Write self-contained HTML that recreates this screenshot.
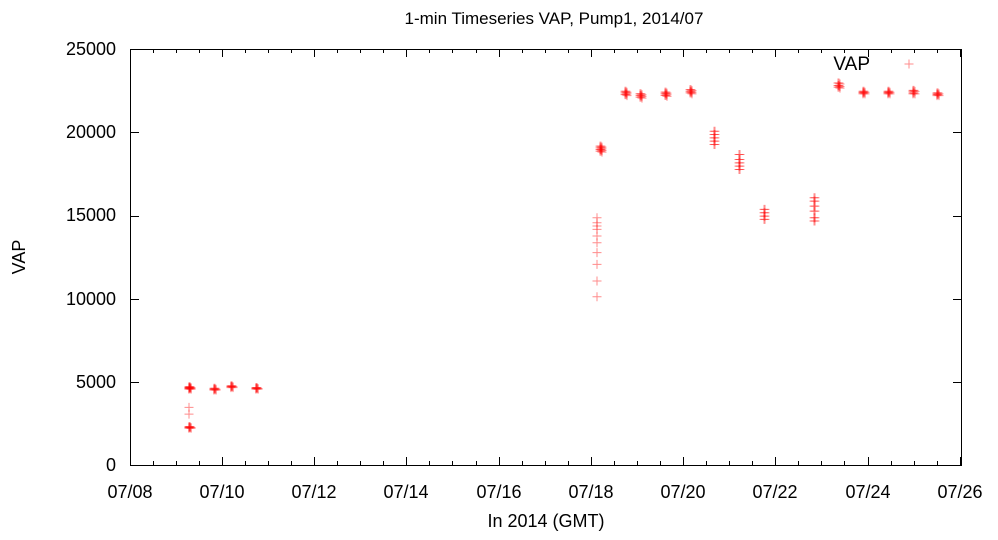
<!DOCTYPE html>
<html><head><style>body{margin:0;background:#fff}svg{display:block}text{font-family:"Liberation Sans",sans-serif;fill:#000}</style></head>
<body>
<svg width="998" height="540" viewBox="0 0 998 540" xmlns="http://www.w3.org/2000/svg">
<defs><path id="p" d="M-4.5 0H4.5M0 -4.5V4.5" stroke="#ff0000" stroke-width="1" stroke-opacity="0.45" fill="none"/></defs>
<text x="554" y="24" font-size="17" text-anchor="middle">1-min Timeseries VAP, Pump1, 2014/07</text>
<rect x="130.5" y="49.5" width="831" height="416" fill="none" stroke="#000" stroke-width="1"/>
<g font-size="18" text-anchor="end">
<text x="116" y="471">0</text><text x="116" y="388">5000</text><text x="116" y="305">10000</text><text x="116" y="221">15000</text><text x="116" y="138">20000</text><text x="116" y="55">25000</text>
</g>
<g stroke="#000" stroke-width="1">
<path d="M130 382.5h9M130 299.5h9M130 216.5h9M130 132.5h9M962 382.5h-9M962 299.5h-9M962 216.5h-9M962 132.5h-9"/>
<path d="M130.5 465v-8M222.5 465v-8M314.5 465v-8M406.5 465v-8M499.5 465v-8M591.5 465v-8M683.5 465v-8M775.5 465v-8M868.5 465v-8M960.5 465v-8
M130.5 49v8M222.5 49v8M314.5 49v8M406.5 49v8M499.5 49v8M591.5 49v8M683.5 49v8M775.5 49v8M868.5 49v8M960.5 49v8
M176.5 465v-4M268.5 465v-4M360.5 465v-4M452.5 465v-4M545.5 465v-4M637.5 465v-4M729.5 465v-4M821.5 465v-4M914.5 465v-4
M153.5 465v-4M199.5 465v-4M245.5 465v-4M291.5 465v-4M337.5 465v-4M383.5 465v-4M429.5 465v-4M476.5 465v-4M522.5 465v-4M568.5 465v-4M614.5 465v-4M660.5 465v-4M706.5 465v-4M752.5 465v-4M798.5 465v-4M844.5 465v-4M891.5 465v-4M937.5 465v-4
M176.5 49v4M268.5 49v4M360.5 49v4M452.5 49v4M545.5 49v4M637.5 49v4M729.5 49v4M821.5 49v4M914.5 49v4
M153.5 49v4M199.5 49v4M245.5 49v4M291.5 49v4M337.5 49v4M383.5 49v4M429.5 49v4M476.5 49v4M522.5 49v4M568.5 49v4M614.5 49v4M660.5 49v4M706.5 49v4M752.5 49v4M798.5 49v4M844.5 49v4M891.5 49v4M937.5 49v4"/>
</g>
<g font-size="18" text-anchor="middle">
<text x="130" y="498">07/08</text><text x="222" y="498">07/10</text><text x="314" y="498">07/12</text><text x="406" y="498">07/14</text><text x="499" y="498">07/16</text><text x="591" y="498">07/18</text><text x="683" y="498">07/20</text><text x="775" y="498">07/22</text><text x="868" y="498">07/24</text><text x="960" y="498">07/26</text>
</g>
<text x="546" y="527" font-size="18" text-anchor="middle">In 2014 (GMT)</text>
<text x="0" y="0" font-size="18" text-anchor="middle" transform="translate(25 257) rotate(-90)">VAP</text>
<text x="870" y="70" font-size="19" text-anchor="end">VAP</text>
<use href="#p" x="909" y="64"/>
<g id="pts"></g>
</svg>
<script>
var g=document.getElementById('pts'),ns='http://www.w3.org/2000/svg';
function Y(v){return 465-v*0.01664}
function add(x,vals,rep){vals.forEach(function(v){for(var i=0;i<(rep||1);i++){var u=document.createElementNS(ns,'use');u.setAttribute('href','#p');u.setAttribute('x',x+(i%3-1)*1);u.setAttribute('y',Y(v)+((i>>1)%3-1)*1);g.appendChild(u);}})}
add(190,[4600,4550,4650],4);add(190,[2200,2250],4);add(190,[3000,3400]);
add(215,[4500,4550],4);add(232,[4700,4650],4);add(257,[4600,4550],4);
add(598,[10050,11000,12000,12700,13300,13700,14100,14300,14500,14800]);
add(601,[18800,18900,19000,19100],3);
add(626,[22200,22300,22400],3);add(641,[22050,22150,22250],3);add(666,[22150,22250,22350],3);add(691,[22300,22400,22500],3);
add(715,[19200,19400,19600,19800,20000],2);add(740,[17700,17900,18100,18300,18600],2);
add(765,[14700,14900,15100,15300],2);add(815,[14600,14800,15200,15500,15800,16000],2);
add(839,[22650,22750,22900],3);add(864,[22300,22400],4);add(889,[22300,22400],4);add(914,[22300,22450],4);add(938,[22200,22300],4);
</script>
</body></html>
